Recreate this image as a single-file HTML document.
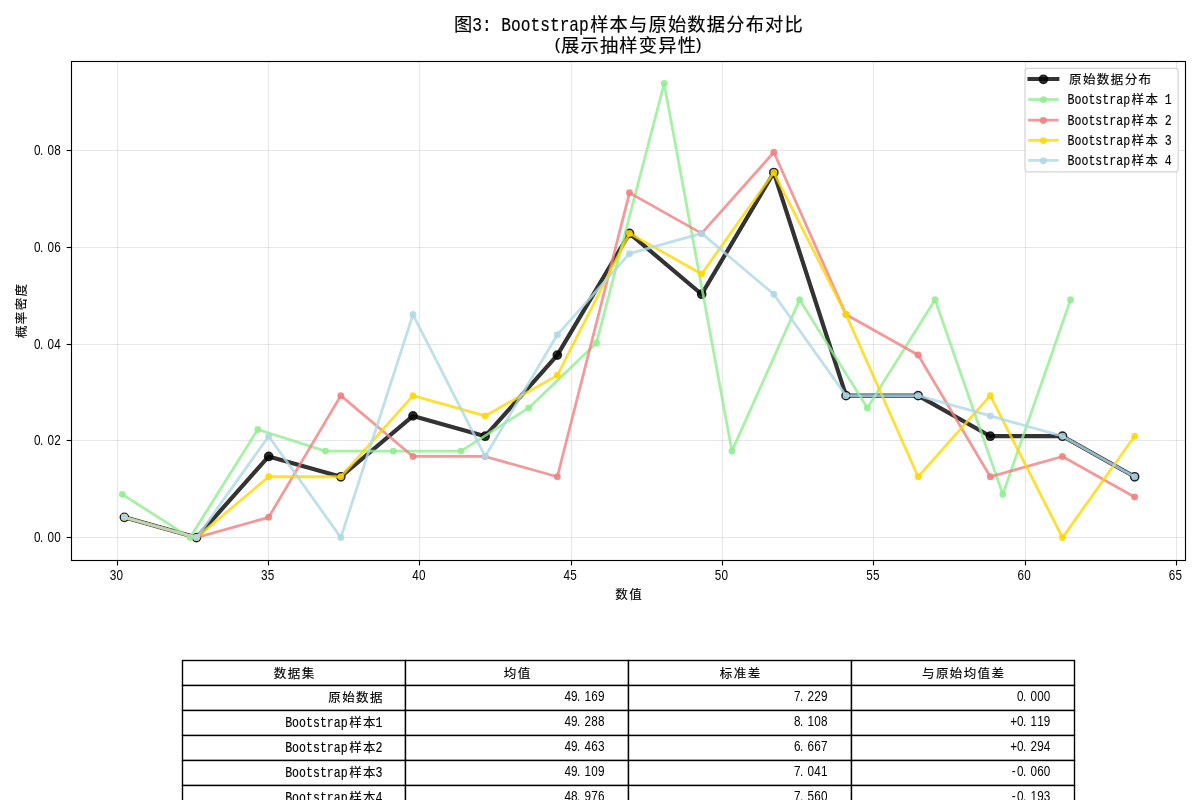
<!DOCTYPE html>
<html lang="zh"><head><meta charset="utf-8"><title>图3: Bootstrap样本与原始数据分布对比</title>
<style>
html,body{margin:0;padding:0;background:#fff;}
body{width:1200px;height:800px;overflow:hidden;}
svg{display:block;}
text{font-family:"Liberation Sans","Noto Sans CJK SC","WenQuanYi Zen Hei",sans-serif;fill:#000;}
text{white-space:pre;}
.c,.m{stroke:#000;stroke-width:0.15px;}
.n{font-family:"Liberation Sans",sans-serif;}
.m{font-family:"Liberation Mono",monospace;}
</style></head><body>
<svg width="1200" height="800" viewBox="0 0 1200 800">
<rect x="0" y="0" width="1200" height="800" fill="#fff"/>
<g stroke="#b0b0b0" stroke-opacity="0.3" stroke-width="1.11" fill="none">
<line x1="117.5" y1="61.5" x2="117.5" y2="560.5"/>
<line x1="268.5" y1="61.5" x2="268.5" y2="560.5"/>
<line x1="419.5" y1="61.5" x2="419.5" y2="560.5"/>
<line x1="571.5" y1="61.5" x2="571.5" y2="560.5"/>
<line x1="722.5" y1="61.5" x2="722.5" y2="560.5"/>
<line x1="873.5" y1="61.5" x2="873.5" y2="560.5"/>
<line x1="1025.5" y1="61.5" x2="1025.5" y2="560.5"/>
<line x1="1176.5" y1="61.5" x2="1176.5" y2="560.5"/>
<line x1="71.5" y1="537.5" x2="1185.5" y2="537.5"/>
<line x1="71.5" y1="440.5" x2="1185.5" y2="440.5"/>
<line x1="71.5" y1="344.5" x2="1185.5" y2="344.5"/>
<line x1="71.5" y1="247.5" x2="1185.5" y2="247.5"/>
<line x1="71.5" y1="150.5" x2="1185.5" y2="150.5"/>
</g>
<clipPath id="axclip"><rect x="71.5" y="61.5" width="1114.0" height="499.0"/></clipPath>
<g clip-path="url(#axclip)">
<g opacity="1">
<polyline points="124.35,517.32 196.51,537.60 268.68,456.48 340.84,476.76 413.01,415.92 485.17,436.20 557.33,355.08 629.50,233.40 701.66,294.24 773.83,172.56 845.99,395.64 918.15,395.64 990.32,436.20 1062.48,436.20 1134.65,476.76" fill="none" stroke="#000000" stroke-opacity="0.80" stroke-width="4.17" stroke-linejoin="round" stroke-linecap="square"/>
<g fill="#000000" fill-opacity="0.80" stroke="#000000" stroke-opacity="0.80" stroke-width="1.39">
<circle cx="124.35" cy="517.32" r="4.17"/>
<circle cx="196.51" cy="537.60" r="4.17"/>
<circle cx="268.68" cy="456.48" r="4.17"/>
<circle cx="340.84" cy="476.76" r="4.17"/>
<circle cx="413.01" cy="415.92" r="4.17"/>
<circle cx="485.17" cy="436.20" r="4.17"/>
<circle cx="557.33" cy="355.08" r="4.17"/>
<circle cx="629.50" cy="233.40" r="4.17"/>
<circle cx="701.66" cy="294.24" r="4.17"/>
<circle cx="773.83" cy="172.56" r="4.17"/>
<circle cx="845.99" cy="395.64" r="4.17"/>
<circle cx="918.15" cy="395.64" r="4.17"/>
<circle cx="990.32" cy="436.20" r="4.17"/>
<circle cx="1062.48" cy="436.20" r="4.17"/>
<circle cx="1134.65" cy="476.76" r="4.17"/>
</g></g>
<g opacity="1">
<polyline points="122.35,494.36 190.08,537.60 257.81,429.50 325.54,451.12 393.27,451.12 461.00,451.12 528.73,407.88 596.46,343.02 664.19,83.58 731.92,451.12 799.65,299.78 867.38,407.88 935.11,299.78 1002.84,494.36 1070.57,299.78" fill="none" stroke="#90ee90" stroke-opacity="0.80" stroke-width="2.78" stroke-linejoin="round" stroke-linecap="square"/>
<g fill="#90ee90" fill-opacity="0.80" stroke="#90ee90" stroke-opacity="0.80" stroke-width="1.39">
<circle cx="122.35" cy="494.36" r="2.78"/>
<circle cx="190.08" cy="537.60" r="2.78"/>
<circle cx="257.81" cy="429.50" r="2.78"/>
<circle cx="325.54" cy="451.12" r="2.78"/>
<circle cx="393.27" cy="451.12" r="2.78"/>
<circle cx="461.00" cy="451.12" r="2.78"/>
<circle cx="528.73" cy="407.88" r="2.78"/>
<circle cx="596.46" cy="343.02" r="2.78"/>
<circle cx="664.19" cy="83.58" r="2.78"/>
<circle cx="731.92" cy="451.12" r="2.78"/>
<circle cx="799.65" cy="299.78" r="2.78"/>
<circle cx="867.38" cy="407.88" r="2.78"/>
<circle cx="935.11" cy="299.78" r="2.78"/>
<circle cx="1002.84" cy="494.36" r="2.78"/>
<circle cx="1070.57" cy="299.78" r="2.78"/>
</g></g>
<g opacity="1">
<polyline points="124.35,517.32 196.51,537.60 268.68,517.32 340.84,395.64 413.01,456.48 485.17,456.48 557.33,476.76 629.50,192.84 701.66,233.40 773.83,152.28 845.99,314.52 918.15,355.08 990.32,476.76 1062.48,456.48 1134.65,497.04" fill="none" stroke="#f08080" stroke-opacity="0.80" stroke-width="2.78" stroke-linejoin="round" stroke-linecap="square"/>
<g fill="#f08080" fill-opacity="0.80" stroke="#f08080" stroke-opacity="0.80" stroke-width="1.39">
<circle cx="124.35" cy="517.32" r="2.78"/>
<circle cx="196.51" cy="537.60" r="2.78"/>
<circle cx="268.68" cy="517.32" r="2.78"/>
<circle cx="340.84" cy="395.64" r="2.78"/>
<circle cx="413.01" cy="456.48" r="2.78"/>
<circle cx="485.17" cy="456.48" r="2.78"/>
<circle cx="557.33" cy="476.76" r="2.78"/>
<circle cx="629.50" cy="192.84" r="2.78"/>
<circle cx="701.66" cy="233.40" r="2.78"/>
<circle cx="773.83" cy="152.28" r="2.78"/>
<circle cx="845.99" cy="314.52" r="2.78"/>
<circle cx="918.15" cy="355.08" r="2.78"/>
<circle cx="990.32" cy="476.76" r="2.78"/>
<circle cx="1062.48" cy="456.48" r="2.78"/>
<circle cx="1134.65" cy="497.04" r="2.78"/>
</g></g>
<g opacity="1">
<polyline points="124.35,517.32 196.51,537.60 268.68,476.76 340.84,476.76 413.01,395.64 485.17,415.92 557.33,375.36 629.50,233.40 701.66,273.96 773.83,172.56 845.99,314.52 918.15,476.76 990.32,395.64 1062.48,537.60 1134.65,436.20" fill="none" stroke="#ffd700" stroke-opacity="0.80" stroke-width="2.78" stroke-linejoin="round" stroke-linecap="square"/>
<g fill="#ffd700" fill-opacity="0.80" stroke="#ffd700" stroke-opacity="0.80" stroke-width="1.39">
<circle cx="124.35" cy="517.32" r="2.78"/>
<circle cx="196.51" cy="537.60" r="2.78"/>
<circle cx="268.68" cy="476.76" r="2.78"/>
<circle cx="340.84" cy="476.76" r="2.78"/>
<circle cx="413.01" cy="395.64" r="2.78"/>
<circle cx="485.17" cy="415.92" r="2.78"/>
<circle cx="557.33" cy="375.36" r="2.78"/>
<circle cx="629.50" cy="233.40" r="2.78"/>
<circle cx="701.66" cy="273.96" r="2.78"/>
<circle cx="773.83" cy="172.56" r="2.78"/>
<circle cx="845.99" cy="314.52" r="2.78"/>
<circle cx="918.15" cy="476.76" r="2.78"/>
<circle cx="990.32" cy="395.64" r="2.78"/>
<circle cx="1062.48" cy="537.60" r="2.78"/>
<circle cx="1134.65" cy="436.20" r="2.78"/>
</g></g>
<g opacity="1">
<polyline points="124.35,517.32 196.51,537.60 268.68,436.20 340.84,537.60 413.01,314.52 485.17,456.48 557.33,334.80 629.50,253.68 701.66,233.40 773.83,294.24 845.99,395.64 918.15,395.64 990.32,415.92 1062.48,436.20 1134.65,476.76" fill="none" stroke="#add8e6" stroke-opacity="0.80" stroke-width="2.78" stroke-linejoin="round" stroke-linecap="square"/>
<g fill="#add8e6" fill-opacity="0.80" stroke="#add8e6" stroke-opacity="0.80" stroke-width="1.39">
<circle cx="124.35" cy="517.32" r="2.78"/>
<circle cx="196.51" cy="537.60" r="2.78"/>
<circle cx="268.68" cy="436.20" r="2.78"/>
<circle cx="340.84" cy="537.60" r="2.78"/>
<circle cx="413.01" cy="314.52" r="2.78"/>
<circle cx="485.17" cy="456.48" r="2.78"/>
<circle cx="557.33" cy="334.80" r="2.78"/>
<circle cx="629.50" cy="253.68" r="2.78"/>
<circle cx="701.66" cy="233.40" r="2.78"/>
<circle cx="773.83" cy="294.24" r="2.78"/>
<circle cx="845.99" cy="395.64" r="2.78"/>
<circle cx="918.15" cy="395.64" r="2.78"/>
<circle cx="990.32" cy="415.92" r="2.78"/>
<circle cx="1062.48" cy="436.20" r="2.78"/>
<circle cx="1134.65" cy="476.76" r="2.78"/>
</g></g>
</g>
<rect x="71.5" y="61.5" width="1114.0" height="499.0" fill="none" stroke="#000" stroke-width="1.11"/>
<g stroke="#000" stroke-width="1.11">
<line x1="117.5" y1="560.5" x2="117.5" y2="565.4"/>
<line x1="268.5" y1="560.5" x2="268.5" y2="565.4"/>
<line x1="419.5" y1="560.5" x2="419.5" y2="565.4"/>
<line x1="571.5" y1="560.5" x2="571.5" y2="565.4"/>
<line x1="722.5" y1="560.5" x2="722.5" y2="565.4"/>
<line x1="873.5" y1="560.5" x2="873.5" y2="565.4"/>
<line x1="1025.5" y1="560.5" x2="1025.5" y2="565.4"/>
<line x1="1176.5" y1="560.5" x2="1176.5" y2="565.4"/>
<line x1="66.6" y1="537.5" x2="71.5" y2="537.5"/>
<line x1="66.6" y1="440.5" x2="71.5" y2="440.5"/>
<line x1="66.6" y1="344.5" x2="71.5" y2="344.5"/>
<line x1="66.6" y1="247.5" x2="71.5" y2="247.5"/>
<line x1="66.6" y1="150.5" x2="71.5" y2="150.5"/>
</g>
<text class="n" transform="scale(0.820 1)" x="137.74 145.91" y="580.00" font-size="14.31" text-anchor="middle">30</text>
<text class="n" transform="scale(0.820 1)" x="322.25 330.43" y="580.00" font-size="14.31" text-anchor="middle">35</text>
<text class="n" transform="scale(0.820 1)" x="506.77 514.94" y="580.00" font-size="14.31" text-anchor="middle">40</text>
<text class="n" transform="scale(0.820 1)" x="691.28 699.45" y="580.00" font-size="14.31" text-anchor="middle">45</text>
<text class="n" transform="scale(0.820 1)" x="875.79 883.96" y="580.00" font-size="14.31" text-anchor="middle">50</text>
<text class="n" transform="scale(0.820 1)" x="1060.30 1068.47" y="580.00" font-size="14.31" text-anchor="middle">55</text>
<text class="n" transform="scale(0.820 1)" x="1244.82 1252.99" y="580.00" font-size="14.31" text-anchor="middle">60</text>
<text class="n" transform="scale(0.820 1)" x="1429.33 1437.50" y="580.00" font-size="14.31" text-anchor="middle">65</text>
<text class="n" transform="scale(0.820 1)" x="45.55 50.86 61.89 70.06" y="542.00" font-size="14.31" text-anchor="middle">0.00</text>
<text class="n" transform="scale(0.820 1)" x="45.55 50.86 61.89 70.06" y="445.00" font-size="14.31" text-anchor="middle">0.02</text>
<text class="n" transform="scale(0.820 1)" x="45.55 50.86 61.89 70.06" y="349.00" font-size="14.31" text-anchor="middle">0.04</text>
<text class="n" transform="scale(0.820 1)" x="45.55 50.86 61.89 70.06" y="252.00" font-size="14.31" text-anchor="middle">0.06</text>
<text class="n" transform="scale(0.820 1)" x="45.55 50.86 61.89 70.06" y="155.00" font-size="14.31" text-anchor="middle">0.08</text>
<text><tspan class="c" x="615.30" y="599.00" font-size="12.50" letter-spacing="1.39" stroke-width="0.13">数值</tspan></text>
<g transform="translate(25.8,311) rotate(-90)">
<text><tspan class="c" x="-27.09" y="0.00" font-size="12.50" letter-spacing="1.39" stroke-width="0.13">概率密度</tspan></text>
</g>
<text><tspan class="c" x="454.12" y="31.00" font-size="18.27" letter-spacing="1.17" stroke-width="0.20">图</tspan><tspan class="m" x="472.18" y="31.00" font-size="20.16" stroke-width="0.27" textLength="116.64" lengthAdjust="spacingAndGlyphs">3: Bootstrap</tspan><tspan class="c" x="590.20" y="31.00" font-size="18.27" letter-spacing="1.17" stroke-width="0.20">样本与原始数据分布对比</tspan></text>
<text><tspan class="m" x="552.88" y="49.86" font-size="16.14" stroke-width="0.15" textLength="9.72" lengthAdjust="spacingAndGlyphs">(</tspan><tspan class="c" x="561.04" y="52.00" font-size="18.27" letter-spacing="1.17" stroke-width="0.20">展示抽样变异性</tspan><tspan class="m" x="693.62" y="49.86" font-size="16.14" stroke-width="0.15" textLength="9.72" lengthAdjust="spacingAndGlyphs">)</tspan></text>
<rect x="1025.0" y="68.4" width="153.2" height="103.4" rx="2.8" ry="2.8" fill="#fff" fill-opacity="0.8" stroke="#ccc" stroke-opacity="0.8" stroke-width="1.25"/>
<line x1="1029.5" y1="79.0" x2="1057.3" y2="79.0" stroke="#000000" stroke-opacity="0.8" stroke-width="4.17" stroke-linecap="square"/>
<circle cx="1043.4" cy="79.3" r="4.17" fill="#000000" fill-opacity="0.8" stroke="#000000" stroke-opacity="0.8" stroke-width="1.39"/>
<text><tspan class="c" x="1069.09" y="83.80" font-size="12.50" letter-spacing="1.39" stroke-width="0.13">原始数据分布</tspan></text>
<line x1="1029.5" y1="99.5" x2="1057.3" y2="99.5" stroke="#90ee90" stroke-opacity="0.8" stroke-width="2.78" stroke-linecap="square"/>
<circle cx="1043.4" cy="99.8" r="2.78" fill="#90ee90" fill-opacity="0.8" stroke="#90ee90" stroke-opacity="0.8" stroke-width="1.39"/>
<text><tspan class="m" x="1067.60" y="104.30" font-size="14.40" stroke-width="0.18" textLength="62.51" lengthAdjust="spacingAndGlyphs">Bootstrap</tspan><tspan class="c" x="1131.60" y="104.30" font-size="12.50" letter-spacing="1.39" stroke-width="0.13">样本</tspan><tspan class="m" x="1157.89" y="104.30" font-size="14.40" stroke-width="0.18" textLength="13.89" lengthAdjust="spacingAndGlyphs"> 1</tspan></text>
<line x1="1029.5" y1="120.2" x2="1057.3" y2="120.2" stroke="#f08080" stroke-opacity="0.8" stroke-width="2.78" stroke-linecap="square"/>
<circle cx="1043.4" cy="120.5" r="2.78" fill="#f08080" fill-opacity="0.8" stroke="#f08080" stroke-opacity="0.8" stroke-width="1.39"/>
<text><tspan class="m" x="1067.60" y="125.00" font-size="14.40" stroke-width="0.18" textLength="62.51" lengthAdjust="spacingAndGlyphs">Bootstrap</tspan><tspan class="c" x="1131.60" y="125.00" font-size="12.50" letter-spacing="1.39" stroke-width="0.13">样本</tspan><tspan class="m" x="1157.89" y="125.00" font-size="14.40" stroke-width="0.18" textLength="13.89" lengthAdjust="spacingAndGlyphs"> 2</tspan></text>
<line x1="1029.5" y1="140.3" x2="1057.3" y2="140.3" stroke="#ffd700" stroke-opacity="0.8" stroke-width="2.78" stroke-linecap="square"/>
<circle cx="1043.4" cy="140.6" r="2.78" fill="#ffd700" fill-opacity="0.8" stroke="#ffd700" stroke-opacity="0.8" stroke-width="1.39"/>
<text><tspan class="m" x="1067.60" y="145.10" font-size="14.40" stroke-width="0.18" textLength="62.51" lengthAdjust="spacingAndGlyphs">Bootstrap</tspan><tspan class="c" x="1131.60" y="145.10" font-size="12.50" letter-spacing="1.39" stroke-width="0.13">样本</tspan><tspan class="m" x="1157.89" y="145.10" font-size="14.40" stroke-width="0.18" textLength="13.89" lengthAdjust="spacingAndGlyphs"> 3</tspan></text>
<line x1="1029.5" y1="160.4" x2="1057.3" y2="160.4" stroke="#add8e6" stroke-opacity="0.8" stroke-width="2.78" stroke-linecap="square"/>
<circle cx="1043.4" cy="160.7" r="2.78" fill="#add8e6" fill-opacity="0.8" stroke="#add8e6" stroke-opacity="0.8" stroke-width="1.39"/>
<text><tspan class="m" x="1067.60" y="165.20" font-size="14.40" stroke-width="0.18" textLength="62.51" lengthAdjust="spacingAndGlyphs">Bootstrap</tspan><tspan class="c" x="1131.60" y="165.20" font-size="12.50" letter-spacing="1.39" stroke-width="0.13">样本</tspan><tspan class="m" x="1157.89" y="165.20" font-size="14.40" stroke-width="0.18" textLength="13.89" lengthAdjust="spacingAndGlyphs"> 4</tspan></text>
<g stroke="#000" stroke-width="1.39" fill="#fff">
<rect x="182.5" y="660.5" width="223.0" height="25.0"/>
<rect x="405.5" y="660.5" width="223.0" height="25.0"/>
<rect x="628.5" y="660.5" width="223.0" height="25.0"/>
<rect x="851.5" y="660.5" width="223.0" height="25.0"/>
<rect x="182.5" y="685.5" width="223.0" height="25.0"/>
<rect x="405.5" y="685.5" width="223.0" height="25.0"/>
<rect x="628.5" y="685.5" width="223.0" height="25.0"/>
<rect x="851.5" y="685.5" width="223.0" height="25.0"/>
<rect x="182.5" y="710.5" width="223.0" height="25.0"/>
<rect x="405.5" y="710.5" width="223.0" height="25.0"/>
<rect x="628.5" y="710.5" width="223.0" height="25.0"/>
<rect x="851.5" y="710.5" width="223.0" height="25.0"/>
<rect x="182.5" y="735.5" width="223.0" height="25.0"/>
<rect x="405.5" y="735.5" width="223.0" height="25.0"/>
<rect x="628.5" y="735.5" width="223.0" height="25.0"/>
<rect x="851.5" y="735.5" width="223.0" height="25.0"/>
<rect x="182.5" y="760.5" width="223.0" height="25.0"/>
<rect x="405.5" y="760.5" width="223.0" height="25.0"/>
<rect x="628.5" y="760.5" width="223.0" height="25.0"/>
<rect x="851.5" y="760.5" width="223.0" height="25.0"/>
<rect x="182.5" y="785.5" width="223.0" height="25.0"/>
<rect x="405.5" y="785.5" width="223.0" height="25.0"/>
<rect x="628.5" y="785.5" width="223.0" height="25.0"/>
<rect x="851.5" y="785.5" width="223.0" height="25.0"/>
</g>
<text><tspan class="c" x="273.86" y="678.00" font-size="12.50" letter-spacing="1.39" stroke-width="0.13">数据集</tspan></text>
<text><tspan class="c" x="503.80" y="678.00" font-size="12.50" letter-spacing="1.39" stroke-width="0.13">均值</tspan></text>
<text><tspan class="c" x="719.86" y="678.00" font-size="12.50" letter-spacing="1.39" stroke-width="0.13">标准差</tspan></text>
<text><tspan class="c" x="922.02" y="678.00" font-size="12.50" letter-spacing="1.39" stroke-width="0.13">与原始均值差</tspan></text>
<text><tspan class="c" x="328.33" y="702.00" font-size="12.50" letter-spacing="1.39" stroke-width="0.13">原始数据</tspan></text>
<text class="n" transform="scale(0.820 1)" x="692.25 700.42 705.73 716.77 724.94 733.11" y="701.00" font-size="14.31" text-anchor="middle">49.169</text>
<text class="n" transform="scale(0.820 1)" x="972.37 977.69 988.72 996.89 1005.06" y="701.00" font-size="14.31" text-anchor="middle">7.229</text>
<text class="n" transform="scale(0.820 1)" x="1244.33 1249.64 1260.67 1268.84 1277.01" y="701.00" font-size="14.31" text-anchor="middle">0.000</text>
<text><tspan class="m" x="285.17" y="727.00" font-size="14.40" stroke-width="0.18" textLength="62.51" lengthAdjust="spacingAndGlyphs">Bootstrap</tspan><tspan class="c" x="349.17" y="727.00" font-size="12.50" letter-spacing="1.39" stroke-width="0.13">样本</tspan><tspan class="m" x="375.45" y="727.00" font-size="14.40" stroke-width="0.18" textLength="6.95" lengthAdjust="spacingAndGlyphs">1</tspan></text>
<text class="n" transform="scale(0.820 1)" x="692.25 700.42 705.73 716.77 724.94 733.11" y="726.00" font-size="14.31" text-anchor="middle">49.288</text>
<text class="n" transform="scale(0.820 1)" x="972.37 977.69 988.72 996.89 1005.06" y="726.00" font-size="14.31" text-anchor="middle">8.108</text>
<text class="n" transform="scale(0.820 1)" x="1236.15 1244.33 1249.64 1260.67 1268.84 1277.01" y="726.00" font-size="14.31" text-anchor="middle">+0.119</text>
<text><tspan class="m" x="285.17" y="752.00" font-size="14.40" stroke-width="0.18" textLength="62.51" lengthAdjust="spacingAndGlyphs">Bootstrap</tspan><tspan class="c" x="349.17" y="752.00" font-size="12.50" letter-spacing="1.39" stroke-width="0.13">样本</tspan><tspan class="m" x="375.45" y="752.00" font-size="14.40" stroke-width="0.18" textLength="6.95" lengthAdjust="spacingAndGlyphs">2</tspan></text>
<text class="n" transform="scale(0.820 1)" x="692.25 700.42 705.73 716.77 724.94 733.11" y="751.00" font-size="14.31" text-anchor="middle">49.463</text>
<text class="n" transform="scale(0.820 1)" x="972.37 977.69 988.72 996.89 1005.06" y="751.00" font-size="14.31" text-anchor="middle">6.667</text>
<text class="n" transform="scale(0.820 1)" x="1236.15 1244.33 1249.64 1260.67 1268.84 1277.01" y="751.00" font-size="14.31" text-anchor="middle">+0.294</text>
<text><tspan class="m" x="285.17" y="777.00" font-size="14.40" stroke-width="0.18" textLength="62.51" lengthAdjust="spacingAndGlyphs">Bootstrap</tspan><tspan class="c" x="349.17" y="777.00" font-size="12.50" letter-spacing="1.39" stroke-width="0.13">样本</tspan><tspan class="m" x="375.45" y="777.00" font-size="14.40" stroke-width="0.18" textLength="6.95" lengthAdjust="spacingAndGlyphs">3</tspan></text>
<text class="n" transform="scale(0.820 1)" x="692.25 700.42 705.73 716.77 724.94 733.11" y="776.00" font-size="14.31" text-anchor="middle">49.109</text>
<text class="n" transform="scale(0.820 1)" x="972.37 977.69 988.72 996.89 1005.06" y="776.00" font-size="14.31" text-anchor="middle">7.041</text>
<text class="n" transform="scale(0.820 1)" x="1236.15 1244.33 1249.64 1260.67 1268.84 1277.01" y="776.00" font-size="14.31" text-anchor="middle">-0.060</text>
<text><tspan class="m" x="285.17" y="802.00" font-size="14.40" stroke-width="0.18" textLength="62.51" lengthAdjust="spacingAndGlyphs">Bootstrap</tspan><tspan class="c" x="349.17" y="802.00" font-size="12.50" letter-spacing="1.39" stroke-width="0.13">样本</tspan><tspan class="m" x="375.45" y="802.00" font-size="14.40" stroke-width="0.18" textLength="6.95" lengthAdjust="spacingAndGlyphs">4</tspan></text>
<text class="n" transform="scale(0.820 1)" x="692.25 700.42 705.73 716.77 724.94 733.11" y="801.00" font-size="14.31" text-anchor="middle">48.976</text>
<text class="n" transform="scale(0.820 1)" x="972.37 977.69 988.72 996.89 1005.06" y="801.00" font-size="14.31" text-anchor="middle">7.560</text>
<text class="n" transform="scale(0.820 1)" x="1236.15 1244.33 1249.64 1260.67 1268.84 1277.01" y="801.00" font-size="14.31" text-anchor="middle">-0.193</text>
</svg></body></html>
